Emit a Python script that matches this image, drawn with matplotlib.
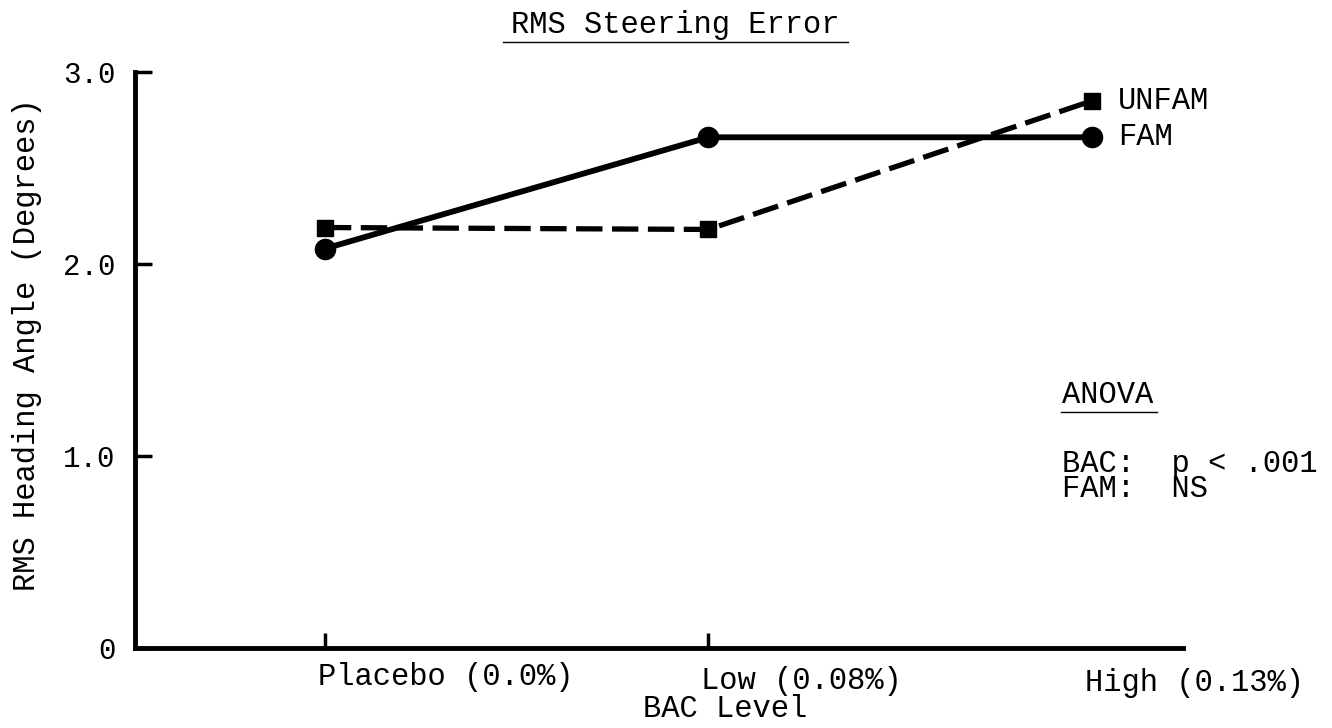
import matplotlib
matplotlib.use("Agg")
import matplotlib.pyplot as plt
from matplotlib.lines import Line2D
from matplotlib.transforms import offset_copy, blended_transform_factory

plt.rcParams['font.family'] = ['Liberation Mono', 'DejaVu Sans Mono']

categories = ["Placebo (0.0%)", "Low (0.08%)", "High (0.13%)"]
fam = [2.08, 2.66, 2.66]
unfam = [2.19, 2.18, 2.85]
series_names = ["UNFAM", "FAM"]
yticks = [0, 1.0, 2.0, 3.0]
yticklabels = ["0", "1.0", "2.0", "3.0"]
title = "RMS Steering Error"
xlabel = "BAC Level"
ylabel = "RMS Heading Angle (Degrees)"
anova_title = "ANOVA"
anova_lines = ["BAC:  p < .001", "FAM:  NS"]

W, H = 1332, 728
FS = 22
fig = plt.figure(figsize=(W / 100, H / 100), dpi=100)
ax = fig.add_axes([135 / W, 1 - 648 / H, 1048 / W, (648 - 72) / H])


def fx(px):
    return px / W


def fy(py):
    return 1 - py / H


x = list(range(len(categories)))
ax.plot(x, fam, color='black', lw=4.2, marker='o', ms=14.5, solid_capstyle='butt', zorder=3)
ax.plot(x, unfam, color='black', lw=3.8, marker='s', ms=11.5, dashes=(5.0, 1.8), zorder=3)

ax.set_xlim(-0.495, 2.237)
ax.set_ylim(0, 3.0)
for s in ['top', 'right']:
    ax.spines[s].set_visible(False)
for s in ['left', 'bottom']:
    ax.spines[s].set_linewidth(3.5)
    ax.spines[s].set_capstyle('projecting')

ax.set_yticks(yticks)
ax.set_yticklabels(yticklabels, fontsize=21)
ax.tick_params(axis='y', direction='in', length=12, width=2.5, pad=14)
ax.set_xticks(x[:2])
ax.set_xticklabels([])
ax.tick_params(axis='x', direction='in', length=11, width=2.5)

# category labels, left-aligned at their tick positions
label_baseline = [685, 689, 691]
btr = blended_transform_factory(ax.transData, fig.transFigure)
tr_lab = offset_copy(btr, fig=fig, x=-7, y=0, units='dots')
for i, lab in enumerate(categories):
    ax.text(i, fy(label_baseline[i]), lab, transform=tr_lab, ha='left', va='baseline', fontsize=FS)

fig.text(fx(725), fy(717), xlabel, ha='center', va='baseline', fontsize=FS)
fig.text(fx(27), fy(345), ylabel, ha='center', va='center', rotation=90, fontsize=FS)

# title with underline
fig.text(fx(675), fy(33), title, ha='center', va='baseline', fontsize=FS)
fig.add_artist(Line2D([fx(503), fx(848)], [fy(42), fy(42)], color='black', lw=1.0))

# series labels at right end
tr = offset_copy(ax.transData, fig=fig, x=26, y=0, units='dots')
ax.text(x[-1], unfam[-1], series_names[0], transform=tr, ha='left', va='center', fontsize=FS)
ax.text(x[-1], fam[-1], series_names[1], transform=tr, ha='left', va='center', fontsize=FS)

# ANOVA block
fig.text(fx(1062), fy(403), anova_title, ha='left', va='baseline', fontsize=FS)
fig.add_artist(Line2D([fx(1061), fx(1157)], [fy(412), fy(412)], color='black', lw=1.0))
fig.text(fx(1062), fy(497), "\n".join(anova_lines), ha='left', va='baseline',
         fontsize=FS, linespacing=0.78, multialignment='left')

fig.savefig("out.png", dpi=100)
